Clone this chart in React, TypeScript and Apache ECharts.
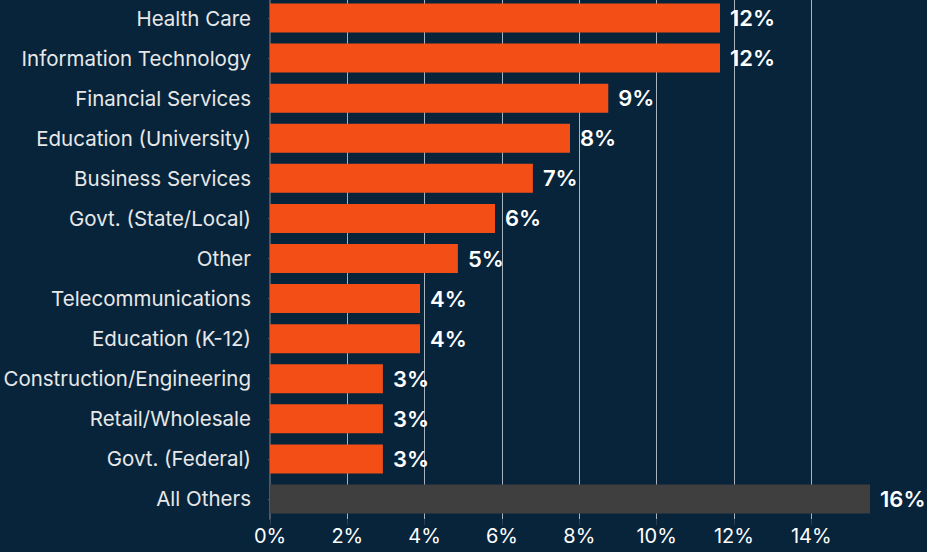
import React, { useEffect, useRef } from "react";
import * as echarts from "echarts";

const categories = [
  "Health Care",
  "Information Technology",
  "Financial Services",
  "Education (University)",
  "Business Services",
  "Govt. (State/Local)",
  "Other",
  "Telecommunications",
  "Education (K-12)",
  "Construction/Engineering",
  "Retail/Wholesale",
  "Govt. (Federal)",
  "All Others",
];

const values = [11.64, 11.64, 8.75, 7.76, 6.8, 5.82, 4.86, 3.88, 3.88, 2.92, 2.92, 2.92, 15.52];

const highlightIndex = 12;

const BG = "#07243b";
const ORANGE = "#f44e17";
const GRAY = "#3f3f3f";
const FONT = "Inter, Roboto, sans-serif";

export default function App() {
  const ref = useRef<HTMLDivElement>(null);
  useEffect(() => {
    if (!ref.current) return;
    const chart = echarts.init(ref.current, null, { renderer: "svg" });
    const cats = [...categories].reverse();
    const vals = [...values].reverse().map((v, i) => {
      const origIdx = values.length - 1 - i;
      return {
        value: v,
        itemStyle: { color: origIdx === highlightIndex ? GRAY : ORANGE },
      };
    });
    chart.setOption({
      animation: false,
      backgroundColor: BG,
      textStyle: { fontFamily: FONT },
      grid: {
        left: 270,
        right: 57,
        top: -2,
        bottom: 33,
        containLabel: false,
        outerBoundsMode: "none",
      },
      xAxis: {
        type: "value",
        min: 0,
        max: "dataMax",
        interval: 2,
        axisLine: { show: false },
        axisTick: { show: true, length: 6, lineStyle: { color: "#2f3f50", width: 1 } },
        axisLabel: {
          color: "#ffffff",
          fontSize: 20,
          margin: 7,
          showMaxLabel: false,
          formatter: (v: number) => `${v}%`,
          fontFamily: FONT,
        },
        splitLine: {
          show: true,
          showMaxLine: false,
          lineStyle: { color: "#a9b3bd", width: 1 },
        },
      },
      yAxis: {
        type: "category",
        data: cats,
        axisLine: { show: true, lineStyle: { color: "#4b5966", width: 2 } },
        axisTick: { show: true, alignWithLabel: true, length: 2, lineStyle: { color: "#4b5966" } },
        axisLabel: {
          color: "#e8e8e8",
          fontSize: 20.5,
          margin: 19,
          fontFamily: FONT,
        },
      },
      series: [
        {
          type: "bar",
          data: vals,
          barWidth: 29,
          label: {
            show: true,
            position: "right",
            distance: 10,
            color: "#ffffff",
            fontSize: 22,
            fontWeight: 600,
            fontFamily: FONT,
            formatter: (p: any) => `${Math.round(p.value)}%`,
          },
        },
      ],
    });
    return () => chart.dispose();
  }, []);
  return (
    <div
      ref={ref}
      style={{ width: 927, height: 552, position: "fixed", left: 0, top: 0 }}
    />
  );
}
